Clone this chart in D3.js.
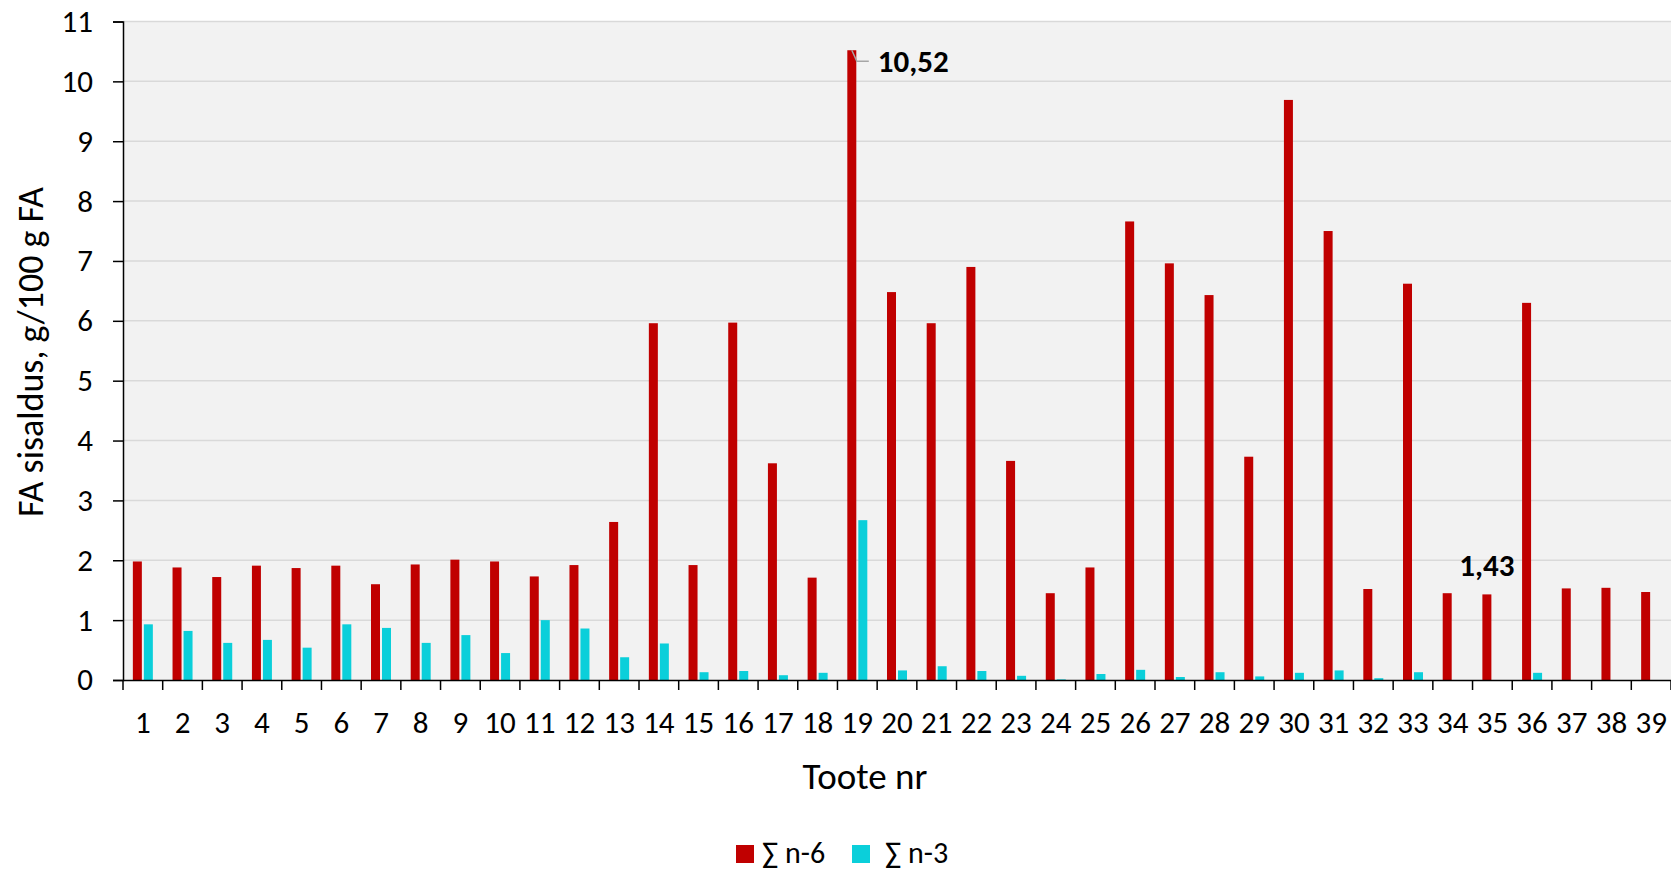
<!DOCTYPE html>
<html>
<head>
<meta charset="utf-8">
<script src="https://cdn.jsdelivr.net/npm/d3@7"></script>
<style>
  body { margin: 0; background: #fff; }
  svg { display: block; font-family: Calibri, Carlito, Lato, sans-serif; }
</style>
</head>
<body>
<svg id="chart"></svg>
<script>
// Toote nr 1..39
const categories = d3.range(1, 40).map(String);
// sum n-6, g/100 g FA
const n6 = [1.98, 1.88, 1.72, 1.91, 1.87, 1.91, 1.60, 1.93, 2.01, 1.98,
  1.73, 1.92, 2.64, 5.96, 1.92, 5.97, 3.62, 1.71, 10.52, 6.48,
  5.96, 6.90, 3.66, 1.45, 1.88, 7.66, 6.96, 6.43, 3.73, 9.69,
  7.50, 1.52, 6.62, 1.45, 1.43, 6.30, 1.53, 1.54, 1.47];
// sum n-3, g/100 g FA
const n3 = [0.93, 0.82, 0.62, 0.67, 0.54, 0.93, 0.87, 0.62, 0.75, 0.45,
  1.00, 0.86, 0.38, 0.61, 0.13, 0.15, 0.08, 0.12, 2.67, 0.16,
  0.23, 0.15, 0.07, 0.01, 0.10, 0.17, 0.05, 0.13, 0.06, 0.12,
  0.16, 0.03, 0.13, 0, 0, 0.12, 0, 0, 0];
const seriesNames = ['∑ n-6', '∑ n-3'];
const yTicks = d3.range(0, 12);
// bars that carry a value label (Toote nr)
const labelled = ['19', '35'];

const width = 1671;
const height = 871;
const colors = ['#c00000', '#0bcfda'];

const fmt = d3.formatLocale({ decimal: ',', thousands: ' ', grouping: [3], currency: ['', ''] }).format('.2f');

const svg = d3.select('#chart')
  .attr('width', width)
  .attr('height', height);

const x = d3.scaleBand()
  .domain(categories)
  .range([123, 1671])
  .paddingInner(0)
  .paddingOuter(0);

const xSub = d3.scaleBand()
  .domain([0, 1])
  .range([-10, 10])
  .paddingInner(2 / 11);

const y = d3.scaleLinear()
  .domain([0, 11])
  .range([680, 21.5]);

// plot area
svg.append('rect')
  .attr('x', x.range()[0])
  .attr('y', y(11))
  .attr('width', x.range()[1] - x.range()[0])
  .attr('height', y(0) - y(11))
  .attr('fill', '#f2f2f2');

// gridlines
svg.append('g')
  .selectAll('line')
  .data(yTicks.filter(d => d > 0))
  .enter().append('line')
  .attr('x1', x.range()[0])
  .attr('x2', x.range()[1])
  .attr('y1', d => y(d))
  .attr('y2', d => y(d))
  .attr('stroke', '#d9d9d9')
  .attr('stroke-width', 1.5);

// bars
const rows = categories.map((c, i) => ({ cat: c, vals: [n6[i], n3[i]] }));
const group = svg.append('g').selectAll('g')
  .data(rows)
  .enter().append('g')
  .attr('transform', d => 'translate(' + (x(d.cat) + x.bandwidth() / 2) + ',0)');

group.selectAll('rect')
  .data(d => d.vals.map((v, s) => ({ v, s })))
  .enter().append('rect')
  .attr('x', d => xSub(d.s))
  .attr('width', xSub.bandwidth())
  .attr('y', d => y(d.v))
  .attr('height', d => y(0) - y(d.v))
  .attr('fill', d => colors[d.s]);

// y axis
const yAxis = d3.axisLeft(y)
  .tickValues(yTicks)
  .tickSize(10)
  .tickPadding(20)
  .tickFormat(d3.format('d'));

svg.append('g')
  .attr('transform', 'translate(' + x.range()[0] + ',0)')
  .call(yAxis)
  .call(g => {
    g.select('.domain').attr('stroke', '#000').attr('stroke-width', 1.5);
    g.selectAll('.tick line').attr('stroke', '#000').attr('stroke-width', 1.5);
    g.selectAll('.tick text').attr('fill', '#000').style('font-size', '31px')
      .style('font-family', 'Calibri, Carlito, Lato, sans-serif');
  });

// x axis: ticks between categories, labels centered
const xAxis = d3.axisBottom(x)
  .tickSize(0)
  .tickPadding(31);

svg.append('g')
  .attr('transform', 'translate(0,' + y(0) + ')')
  .call(xAxis)
  .call(g => {
    g.select('.domain').attr('stroke', '#000').attr('stroke-width', 1.5);
    g.selectAll('.tick text').attr('fill', '#000').style('font-size', '31px')
      .style('font-family', 'Calibri, Carlito, Lato, sans-serif');
  });

svg.append('g')
  .selectAll('line')
  .data(categories.concat(['end']))
  .enter().append('line')
  .attr('x1', (d, i) => x.range()[0] + i * x.step())
  .attr('x2', (d, i) => x.range()[0] + i * x.step())
  .attr('y1', y(0))
  .attr('y2', y(0) + 10)
  .attr('stroke', '#000')
  .attr('stroke-width', 1.5);

// value labels
labelled.forEach(c => {
  const i = categories.indexOf(c);
  const bx = x(c) + x.bandwidth() / 2 + xSub(0) + xSub.bandwidth() / 2;
  const by = y(n6[i]);
  if (c === '19') {
    svg.append('polyline')
      .attr('points', [[bx, by], [bx + 5, by + 11], [bx + 17, by + 11]].map(p => p.join(',')).join(' '))
      .attr('fill', 'none')
      .attr('stroke', '#a6a6a6')
      .attr('stroke-width', 1.5);
    svg.append('text')
      .attr('x', bx + 26)
      .attr('y', by + 11)
      .attr('dy', '0.35em')
      .style('font-size', '31px')
      .style('font-weight', 'bold')
      .text(fmt(n6[i]));
  } else {
    svg.append('text')
      .attr('x', bx)
      .attr('y', by - 18)
      .attr('text-anchor', 'middle')
      .style('font-size', '31px')
      .style('font-weight', 'bold')
      .text(fmt(n6[i]));
  }
});

// axis titles
svg.append('text')
  .attr('transform', 'translate(43,352) rotate(-90)')
  .attr('text-anchor', 'middle')
  .style('font-size', '36px')
  .text('FA sisaldus, g/100 g FA');

svg.append('text')
  .attr('x', 865)
  .attr('y', 789)
  .attr('text-anchor', 'middle')
  .style('font-size', '37px')
  .text('Toote nr');

// legend
const legend = svg.append('g');
const legendX = [736, 852];
seriesNames.forEach((name, s) => {
  legend.append('rect')
    .attr('x', legendX[s])
    .attr('y', 845)
    .attr('width', 18)
    .attr('height', 18)
    .attr('fill', colors[s]);
  legend.append('text')
    .attr('x', legendX[s] + (s === 0 ? 26 : 33))
    .attr('y', 863)
    .style('font-size', '30px')
    .text(name);
});
</script>
</body>
</html>
